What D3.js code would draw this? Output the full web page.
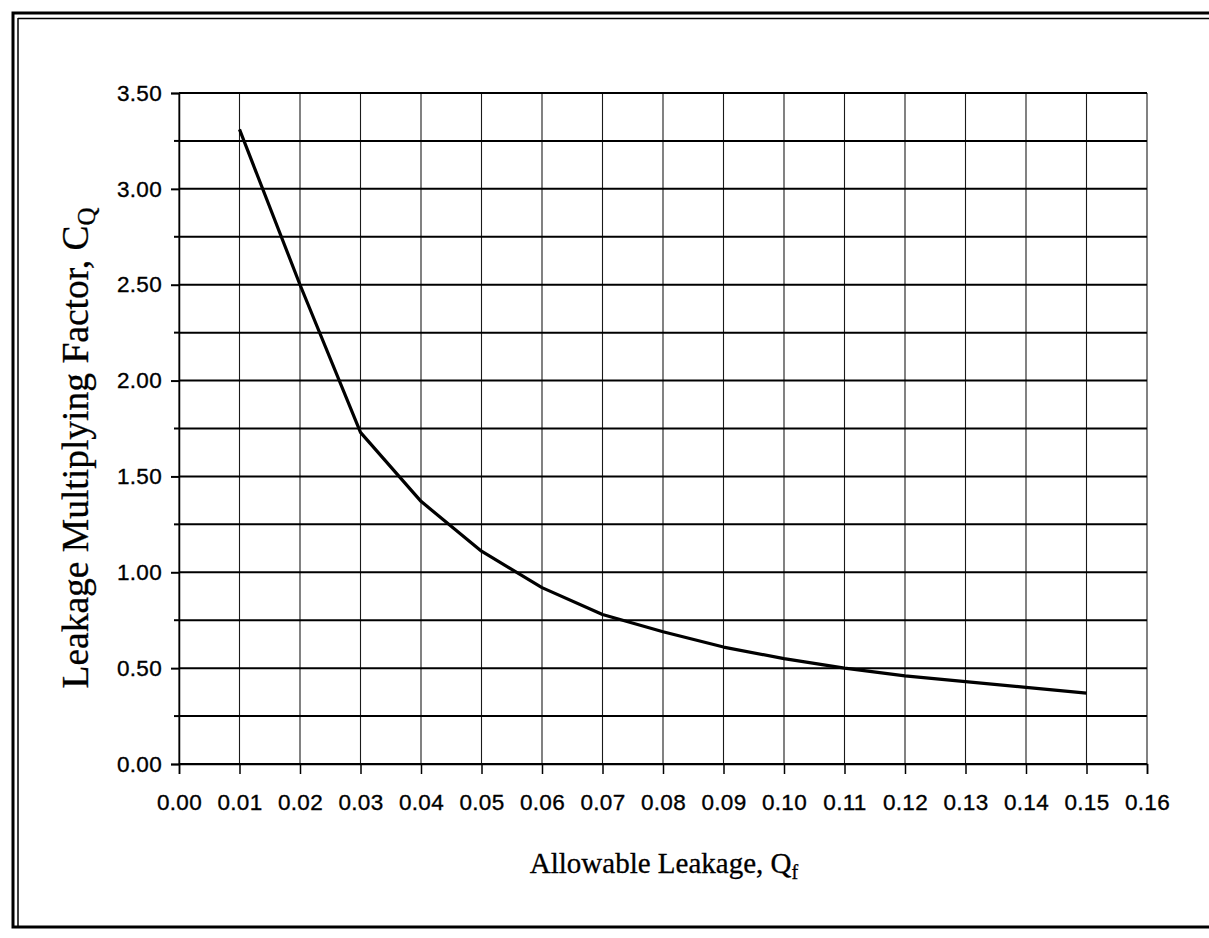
<!DOCTYPE html>
<html>
<head>
<meta charset="utf-8">
<script src="https://cdn.jsdelivr.net/npm/d3@7"></script>
<style>
  body { margin: 0; background: #fff; }
  svg { display: block; }
</style>
</head>
<body>
<script>
"use strict";

// ----------------------------------------
//  Data
// ----------------------------------------
const leakage = [0.01, 0.02, 0.03, 0.04, 0.05, 0.06, 0.07, 0.08, 0.09, 0.10, 0.11, 0.12, 0.13, 0.14, 0.15];
const factor  = [3.31, 2.50, 1.73, 1.37, 1.11, 0.92, 0.78, 0.69, 0.61, 0.55, 0.50, 0.46, 0.43, 0.40, 0.37];

const xTicks = [0.00, 0.01, 0.02, 0.03, 0.04, 0.05, 0.06, 0.07, 0.08, 0.09, 0.10, 0.11, 0.12, 0.13, 0.14, 0.15, 0.16];
const yMajor = [0.00, 0.50, 1.00, 1.50, 2.00, 2.50, 3.00, 3.50];
const yMinor = [0.25, 0.75, 1.25, 1.75, 2.25, 2.75, 3.25];

const W = 1209, H = 938;
const margin = {top: 93, right: 62, bottom: 174, left: 179};
const width = W - margin.left - margin.right;
const height = H - margin.top - margin.bottom;

const svg = d3.select("body").append("svg")
    .attr("width", W)
    .attr("height", H);

// ----------------------------------------
//  Page frame (double rule top and left)
// ----------------------------------------
const frame = svg.append("g").attr("fill", "none").attr("stroke", "#000");
frame.append("rect")
    .attr("x", 13).attr("y", 13)
    .attr("width", W + 20).attr("height", 914)
    .attr("stroke-width", 3);
frame.append("line").attr("x1", 18).attr("x2", W).attr("y1", 18.5).attr("y2", 18.5).attr("stroke-width", 1.5);
frame.append("line").attr("x1", 18).attr("x2", 18).attr("y1", 18).attr("y2", 927).attr("stroke-width", 1.5);

const g = svg.append("g")
    .attr("transform", "translate(" + margin.left + "," + margin.top + ")");

// ----------------------------------------
//  Scales
// ----------------------------------------
const x = d3.scaleLinear().domain([0, 0.16]).range([0, width]);
const y = d3.scaleLinear().domain([0, 3.5]).range([height, 0]);

// vertical grid, thin
g.append("g")
    .selectAll("line")
    .data(xTicks)
    .join("line")
    .attr("x1", d => x(d)).attr("x2", d => x(d))
    .attr("y1", 0).attr("y2", height)
    .attr("stroke", "#1a1a1a")
    .attr("stroke-width", 1.1);

// horizontal grid, heavier
g.append("g")
    .selectAll("line")
    .data(yMajor.concat(yMinor))
    .join("line")
    .attr("x1", 0).attr("x2", width)
    .attr("y1", d => y(d)).attr("y2", d => y(d))
    .attr("stroke", "#000")
    .attr("stroke-width", 2);

// ----------------------------------------
//  Axes
// ----------------------------------------
const tickFont = "'Liberation Sans', Arial, Helvetica, sans-serif";

const yAxis = g.append("g")
    .call(d3.axisLeft(y).tickValues(yMajor).tickSize(8).tickPadding(9).tickFormat(d3.format(".2f")));
yAxis.append("g")
    .selectAll("line")
    .data(yMinor)
    .join("line")
    .attr("x1", -5).attr("x2", 0)
    .attr("y1", d => y(d)).attr("y2", d => y(d))
    .attr("stroke", "#000").attr("stroke-width", 2);

const xAxis = g.append("g")
    .attr("transform", "translate(0," + height + ")")
    .call(d3.axisBottom(x).tickValues(xTicks).tickSize(10).tickPadding(20).tickFormat(d3.format(".2f")));

[xAxis, yAxis].forEach(a => {
    a.select(".domain").attr("stroke", "#000").attr("stroke-width", 1.5);
    a.selectAll(".tick line").attr("stroke", "#000").attr("stroke-width", 1.5);
    a.selectAll(".tick text")
        .attr("fill", "#000")
        .attr("stroke", "#000")
        .attr("stroke-width", 0.35)
        .style("font-family", tickFont)
        .style("font-size", "22.5px")
        .style("letter-spacing", "0.3px");
});
yAxis.selectAll(".tick line").attr("stroke-width", 2);

// ----------------------------------------
//  The curve
// ----------------------------------------
const pts = leakage.map((d, i) => [d, factor[i]]);
g.append("path")
    .datum(pts)
    .attr("fill", "none")
    .attr("stroke", "#000")
    .attr("stroke-width", 3.2)
    .attr("stroke-linejoin", "round")
    .attr("d", d3.line().x(d => x(d[0])).y(d => y(d[1])));

// ----------------------------------------
//  Axis titles
// ----------------------------------------
const serif = "'Liberation Serif', 'Times New Roman', Times, serif";

const xt = svg.append("text")
    .attr("x", 664).attr("y", 873)
    .attr("text-anchor", "middle")
    .attr("stroke", "#000").attr("stroke-width", 0.3)
    .style("font-family", serif)
    .style("font-size", "29px");
xt.append("tspan").text("Allowable Leakage, Q");
xt.append("tspan").attr("dy", 6).style("font-size", "20px").text("f");

const yt = svg.append("text")
    .attr("transform", "translate(88,448) rotate(-90)")
    .attr("text-anchor", "middle")
    .attr("stroke", "#000").attr("stroke-width", 0.3)
    .style("font-family", serif)
    .style("font-size", "37.5px");
yt.append("tspan").text("Leakage Multiplying Factor, C");
yt.append("tspan").attr("dy", 7).style("font-size", "25px").text("Q");
</script>
</body>
</html>
